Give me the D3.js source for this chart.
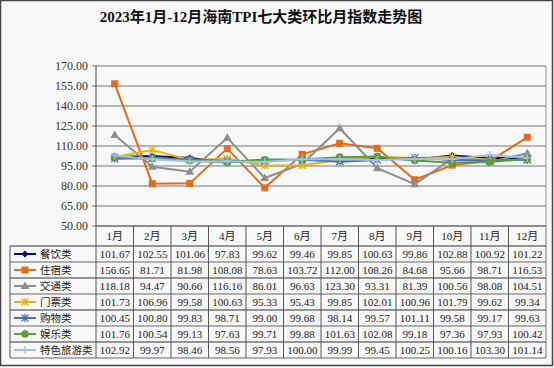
<!DOCTYPE html>
<html><head><meta charset="utf-8">
<script src="https://cdn.jsdelivr.net/npm/d3@7"></script>
<style>body{margin:0;background:#fff}svg{display:block}</style>
</head><body>
<script>
const title = "2023年1月-12月海南TPI七大类环比月指数走势图";
const months = ["1月","2月","3月","4月","5月","6月","7月","8月","9月","10月","11月","12月"];
const yTicks = [50,65,80,95,110,125,140,155,170];
const seriesNames = ["餐饮类","住宿类","交通类","门票类","购物类","娱乐类","特色旅游类"];
const canyin  = [101.67,102.55,101.06,97.83,99.62,99.46,99.85,100.63,99.86,102.88,100.92,101.22];
const zhusu   = [156.65,81.71,81.98,108.08,78.63,103.72,112.00,108.26,84.68,95.66,98.71,116.53];
const jiaotong= [118.18,94.47,90.66,116.16,86.01,96.63,123.30,93.31,81.39,100.56,98.08,104.51];
const menpiao = [101.73,106.96,99.58,100.63,95.33,95.43,99.85,102.01,100.96,101.79,99.62,99.34];
const gouwu   = [100.45,100.80,99.83,98.71,99.00,99.68,98.14,99.57,101.11,99.58,99.17,99.63];
const yule    = [101.76,100.54,99.13,97.63,99.71,99.88,101.63,102.08,99.18,97.36,97.93,100.42];
const tese    = [102.92,99.97,98.46,98.56,97.93,100.00,99.99,99.45,100.25,100.16,103.30,101.14];
const seriesValues = [canyin,zhusu,jiaotong,menpiao,gouwu,yule,tese];
const colors = ["#0a0a80","#e06c1c","#8e8e8e","#e6b512","#4a70c0","#5c9e3c","#9ec3e6"];
const markers = ["diamond","square","triangle","xstar","star","circle","plus"];

(function(){
const W=554,H=368;
const pL=96,pR=546,pT=66,pB=226;
const svg=d3.select("body").append("svg").attr("width",W).attr("height",H);
svg.append("rect").attr("x",0).attr("y",0).attr("width",W).attr("height",H).attr("fill","#f8f8f8");
svg.append("rect").attr("x",0.5).attr("y",0.5).attr("width",W-2).attr("height",H-3)
  .attr("fill","none").attr("stroke","#444").attr("stroke-width",1.5);

const FONT="'Liberation Serif','Noto Sans CJK SC',serif";
svg.append("text").attr("x",261).attr("y",22).attr("text-anchor","middle")
  .attr("font-family",FONT).attr("font-size",15).attr("font-weight","bold").attr("fill","#111").text(title);

const x=d3.scaleBand().domain(months).range([pL,pR]);
const y=d3.scaleLinear().domain([50,170]).range([pB,pT]);

svg.append("g").selectAll("line").data(yTicks).join("line")
  .attr("x1",pL-4).attr("x2",pR).attr("y1",d=>y(d)).attr("y2",d=>y(d))
  .attr("stroke","#777").attr("stroke-width",1);
svg.append("line").attr("x1",pR).attr("x2",pR).attr("y1",pT).attr("y2",pB).attr("stroke","#999");
svg.append("line").attr("x1",pL).attr("x2",pL).attr("y1",pT).attr("y2",pB).attr("stroke","#444");
svg.append("g").selectAll("text").data(yTicks).join("text")
  .attr("x",88).attr("y",d=>y(d)+4).attr("text-anchor","end")
  .attr("font-family",FONT).attr("font-size",12).attr("fill","#333")
  .text(d=>d3.format(".2f")(d));

function drawMarker(g,type,cx,cy,color){
  const s=3.5;
  if(type==="diamond") g.append("path").attr("d",`M${cx},${cy-s}L${cx+s},${cy}L${cx},${cy+s}L${cx-s},${cy}Z`).attr("fill",color);
  else if(type==="square") g.append("rect").attr("x",cx-3.5).attr("y",cy-3.5).attr("width",7).attr("height",7).attr("fill",color);
  else if(type==="triangle") g.append("path").attr("d",`M${cx},${cy-4.5}L${cx+4.5},${cy+3}L${cx-4.5},${cy+3}Z`).attr("fill",color);
  else if(type==="circle") g.append("circle").attr("cx",cx).attr("cy",cy).attr("r",3.8).attr("fill",color);
  else if(type==="xstar"){
    g.append("path").attr("d",`M${cx-3.5},${cy-3.5}L${cx+3.5},${cy+3.5}M${cx-3.5},${cy+3.5}L${cx+3.5},${cy-3.5}M${cx},${cy-4}L${cx},${cy+4}`).attr("stroke",color).attr("stroke-width",1.3);
  } else if(type==="star"){
    g.append("path").attr("d",`M${cx-3.5},${cy-3.5}L${cx+3.5},${cy+3.5}M${cx-3.5},${cy+3.5}L${cx+3.5},${cy-3.5}M${cx},${cy-4}L${cx},${cy+4}M${cx-4},${cy}L${cx+4},${cy}`).attr("stroke",color).attr("stroke-width",1.3);
  } else if(type==="plus"){
    g.append("path").attr("d",`M${cx},${cy-4}L${cx},${cy+4}M${cx-4},${cy}L${cx+4},${cy}`).attr("stroke",color).attr("stroke-width",1.3);
  }
}

const line=d3.line().x((d,i)=>x(months[i])+x.bandwidth()/2).y(d=>y(d));
seriesValues.forEach((vals,si)=>{
  const g=svg.append("g");
  g.append("path").attr("d",line(vals)).attr("fill","none").attr("stroke",colors[si]).attr("stroke-width",2);
  vals.forEach((v,i)=>drawMarker(g,markers[si],x(months[i])+x.bandwidth()/2,y(v),colors[si]));
});

const tTop=pB, hdrH=20, rowH=16, legL=10;
const tg=svg.append("g");
const nRows=seriesNames.length;
const tBottom=tTop+hdrH+rowH*nRows;
tg.selectAll("text.m").data(months).join("text").attr("class","m")
  .attr("x",d=>x(d)+x.bandwidth()/2).attr("y",tTop+hdrH/2+4).attr("text-anchor","middle")
  .attr("font-family",FONT).attr("font-size",11).attr("fill","#222").text(d=>d);
const hl=[tTop,tTop+hdrH];
for(let r=1;r<=nRows;r++) hl.push(tTop+hdrH+rowH*r);
hl.forEach((yy,k)=>{
  tg.append("line").attr("x1",k<1?pL:legL).attr("x2",pR).attr("y1",yy).attr("y2",yy)
    .attr("stroke",k>=1&&k%2===1?"#333":"#666").attr("stroke-width",1);
});
months.forEach(m=>{
  tg.append("line").attr("x1",x(m)).attr("x2",x(m)).attr("y1",tTop).attr("y2",tBottom).attr("stroke","#555");
});
tg.append("line").attr("x1",pR).attr("x2",pR).attr("y1",tTop).attr("y2",tBottom).attr("stroke","#777");
tg.append("line").attr("x1",legL).attr("x2",legL).attr("y1",tTop+hdrH).attr("y2",tBottom).attr("stroke","#555");
seriesNames.forEach((name,si)=>{
  const cy=tTop+hdrH+rowH*si+rowH/2;
  tg.append("line").attr("x1",14).attr("x2",36).attr("y1",cy).attr("y2",cy).attr("stroke",colors[si]).attr("stroke-width",2);
  drawMarker(tg,markers[si],25,cy,colors[si]);
  tg.append("text").attr("x",40).attr("y",cy+4).attr("font-family",FONT).attr("font-size",10.5).attr("fill","#222").text(name);
  seriesValues[si].forEach((v,i)=>{
    tg.append("text").attr("x",x(months[i])+x.bandwidth()/2).attr("y",cy+4)
      .attr("text-anchor","middle").attr("font-family",FONT).attr("font-size",11).attr("fill","#222")
      .text(d3.format(".2f")(v));
  });
});
})();
</script>
</body></html>
